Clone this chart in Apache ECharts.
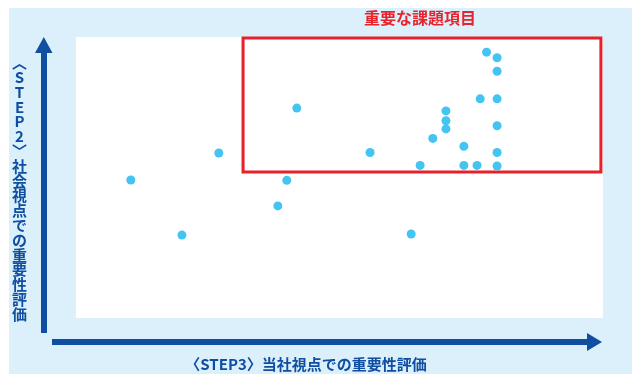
<!DOCTYPE html>
<html>
<head>
<meta charset="utf-8">
<script src="https://cdn.jsdelivr.net/npm/echarts@6/dist/echarts.min.js"></script>
<style>
  html, body { margin: 0; padding: 0; background: #fff; }
  #main { width: 632px; height: 374px; }
</style>
</head>
<body>
<div id="main"></div>
<script>
// 〈STEP3〉当社視点 (x) / 〈STEP2〉社会視点 (y) の評価点
var xValues = [10.4, 20.1, 27.1, 38.3, 40.0, 41.9, 55.8, 63.6, 65.3, 67.7, 70.2, 70.2,
               70.2, 73.6, 73.6, 76.1, 76.7, 77.9, 79.9, 79.9, 79.9, 79.9, 79.9, 79.9];
var yValues = [49.1, 29.5, 58.7, 39.9, 49.0, 74.7, 58.9, 29.9, 54.3, 63.9, 73.7, 70.2,
               67.3, 61.1, 54.3, 54.3, 78.0, 94.6, 92.6, 87.8, 78.0, 68.4, 58.9, 54.1];
// 重要な課題項目の範囲
var boxX = [31.7, 99.6];
var boxY = [52.0, 99.6];

var points = xValues.map(function (x, i) { return [x, yValues[i]]; });

var font = '"Noto Sans CJK JP", "Noto Sans CJK SC", sans-serif';
var navy = '#0f4ea1';
var yTitle = ['︿', 'S', 'T', 'E', 'P', '2', '﹀', '社', '会', '視', '点', 'で', 'の', '重', '要', '性', '評', '価'];

var myChart = echarts.init(document.getElementById('main'));

var option = {
  backgroundColor: '#fff',
  animation: false,
  grid: {
    left: 76, top: 37, right: 29, bottom: 56,
    show: true, backgroundColor: '#fff', borderWidth: 0
  },
  xAxis: { type: 'value', min: 0, max: 100, show: false },
  yAxis: { type: 'value', min: 0, max: 100, show: false },
  graphic: [
    { type: 'rect', z: -10, shape: { x: 9, y: 8, width: 623, height: 366 }, style: { fill: '#dbf0fb' } },
    // y arrow
    { type: 'rect', shape: { x: 41, y: 50, width: 6, height: 283 }, style: { fill: navy } },
    { type: 'polygon', shape: { points: [[35, 53], [52.5, 53], [43.8, 37]] }, style: { fill: navy } },
    // x arrow
    { type: 'rect', shape: { x: 52, y: 339, width: 537, height: 6 }, style: { fill: navy } },
    { type: 'polygon', shape: { points: [[587, 333], [587, 351], [602, 342]] }, style: { fill: navy } },
    {
      type: 'text', x: 306, y: 364,
      style: { text: '〈STEP3〉当社視点での重要性評価', font: 'bold 15px ' + font, fill: navy, align: 'center', verticalAlign: 'middle' }
    },
    {
      type: 'text', x: 19.5, y: 55,
      style: { text: yTitle.join('\n'), font: 'bold 15px ' + font, lineHeight: 14.8, fill: navy, align: 'center', verticalAlign: 'top' }
    },
    {
      type: 'text', x: 420, y: 18,
      style: { text: '重要な課題項目', font: 'bold 16px ' + font, fill: '#e8232b', align: 'center', verticalAlign: 'middle' }
    }
  ],
  series: [{
    type: 'scatter',
    data: points,
    symbolSize: 9,
    itemStyle: { color: '#43c4f1', opacity: 1 },
    markArea: {
      silent: true,
      itemStyle: { color: 'rgba(0,0,0,0)', borderColor: '#e8202a', borderWidth: 3 },
      data: [[{ coord: [boxX[0], boxY[0]] }, { coord: [boxX[1], boxY[1]] }]]
    }
  }]
};

myChart.setOption(option);
</script>
</body>
</html>
